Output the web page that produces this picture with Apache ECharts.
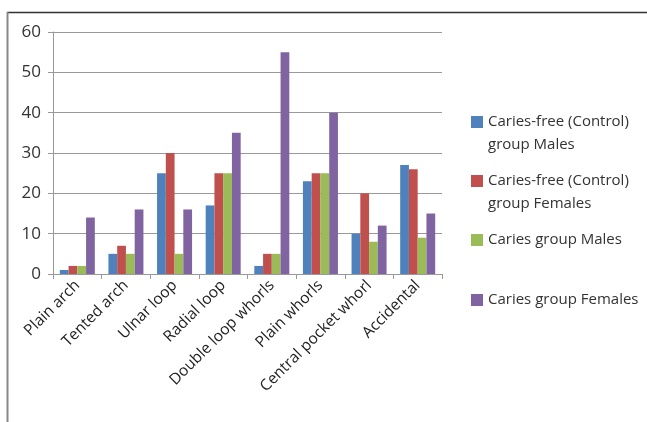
<!DOCTYPE html>
<html>
<head>
<meta charset="utf-8">
<script src="https://cdn.jsdelivr.net/npm/echarts@6/dist/echarts.min.js"></script>
<style>
  html, body { margin: 0; padding: 0; background: #fff; }
  #chart { width: 647px; height: 422px; }
</style>
</head>
<body>
<div id="chart"></div>
<script>
var categories = ["Plain arch", "Tented arch", "Ulnar loop", "Radial loop",
  "Double loop whorls", "Plain whorls", "Central pocket whorl", "Accidental"];
var controlMales = [1, 5, 25, 17, 2, 23, 10, 27];
var controlFemales = [2, 7, 30, 25, 5, 25, 20, 26];
var cariesMales = [2, 5, 5, 25, 5, 25, 8, 9];
var cariesFemales = [14, 16, 16, 35, 55, 40, 12, 15];
var seriesNames = ["Caries-free (Control)\ngroup Males", "Caries-free (Control)\ngroup Females",
  "Caries group Males", "Caries group Females"];
var colors = ["#4f81bd", "#c0504d", "#9bbb59", "#8064a2"];
// centre of the first text line of each legend entry
var legendRows = [122, 181, 240, 300];

var font = "'Open Sans', sans-serif";
var chart = echarts.init(document.getElementById("chart"));

var values = [controlMales, controlFemales, cariesMales, cariesFemales];
var series = values.map(function (v, i) {
  return {
    name: seriesNames[i],
    type: "bar",
    data: v,
    barGap: "0%",
    barCategoryGap: "28%",
    itemStyle: { color: colors[i] }
  };
});

var legends = seriesNames.map(function (n, i) {
  return {
    data: [n],
    left: 466,
    top: legendRows[i] - 15,
    icon: "rect",
    itemWidth: 12,
    itemHeight: 12,
    itemGap: 4,
    formatter: function (name) { return name.split("\n")[0]; },
    textStyle: { fontFamily: font, fontSize: 15, color: "#333", lineHeight: 20 }
  };
});

// second lines of the two-line legend entries
var graphics = [
  { type: "line", shape: { x1: 7, y1: 12.5, x2: 647, y2: 12.5 }, style: { stroke: "#333", lineWidth: 1.5 } },
  { type: "line", shape: { x1: 7.5, y1: 12, x2: 7.5, y2: 422 }, style: { stroke: "#888", lineWidth: 2 } }
];
seriesNames.forEach(function (n, i) {
  var parts = n.split("\n");
  if (parts.length > 1) {
    graphics.push({
      type: "text",
      left: 488,
      top: legendRows[i] + 23 - 10,
      style: { text: parts[1], font: "15px " + font, fill: "#333", lineHeight: 20 }
    });
  }
});

var option = {
  animation: false,
  color: colors,
  grid: { left: 53, right: 205, top: 32, bottom: 148 },
  legend: legends,
  graphic: graphics,
  xAxis: {
    type: "category",
    data: categories,
    axisLine: { lineStyle: { color: "#999" } },
    axisTick: { show: true, length: 5, lineStyle: { color: "#999" } },
    axisLabel: { rotate: 45, interval: 0, margin: 9, fontFamily: font, fontSize: 15.5, color: "#222" }
  },
  yAxis: {
    type: "value",
    min: 0,
    max: 60,
    interval: 10,
    axisLine: { show: true, lineStyle: { color: "#999" } },
    axisTick: { show: true, length: 5, lineStyle: { color: "#999" } },
    axisLabel: { margin: 12, fontFamily: font, fontSize: 17, color: "#333" },
    splitLine: { lineStyle: { color: "#999" } }
  },
  series: series
};

chart.setOption(option);
</script>
</body>
</html>
